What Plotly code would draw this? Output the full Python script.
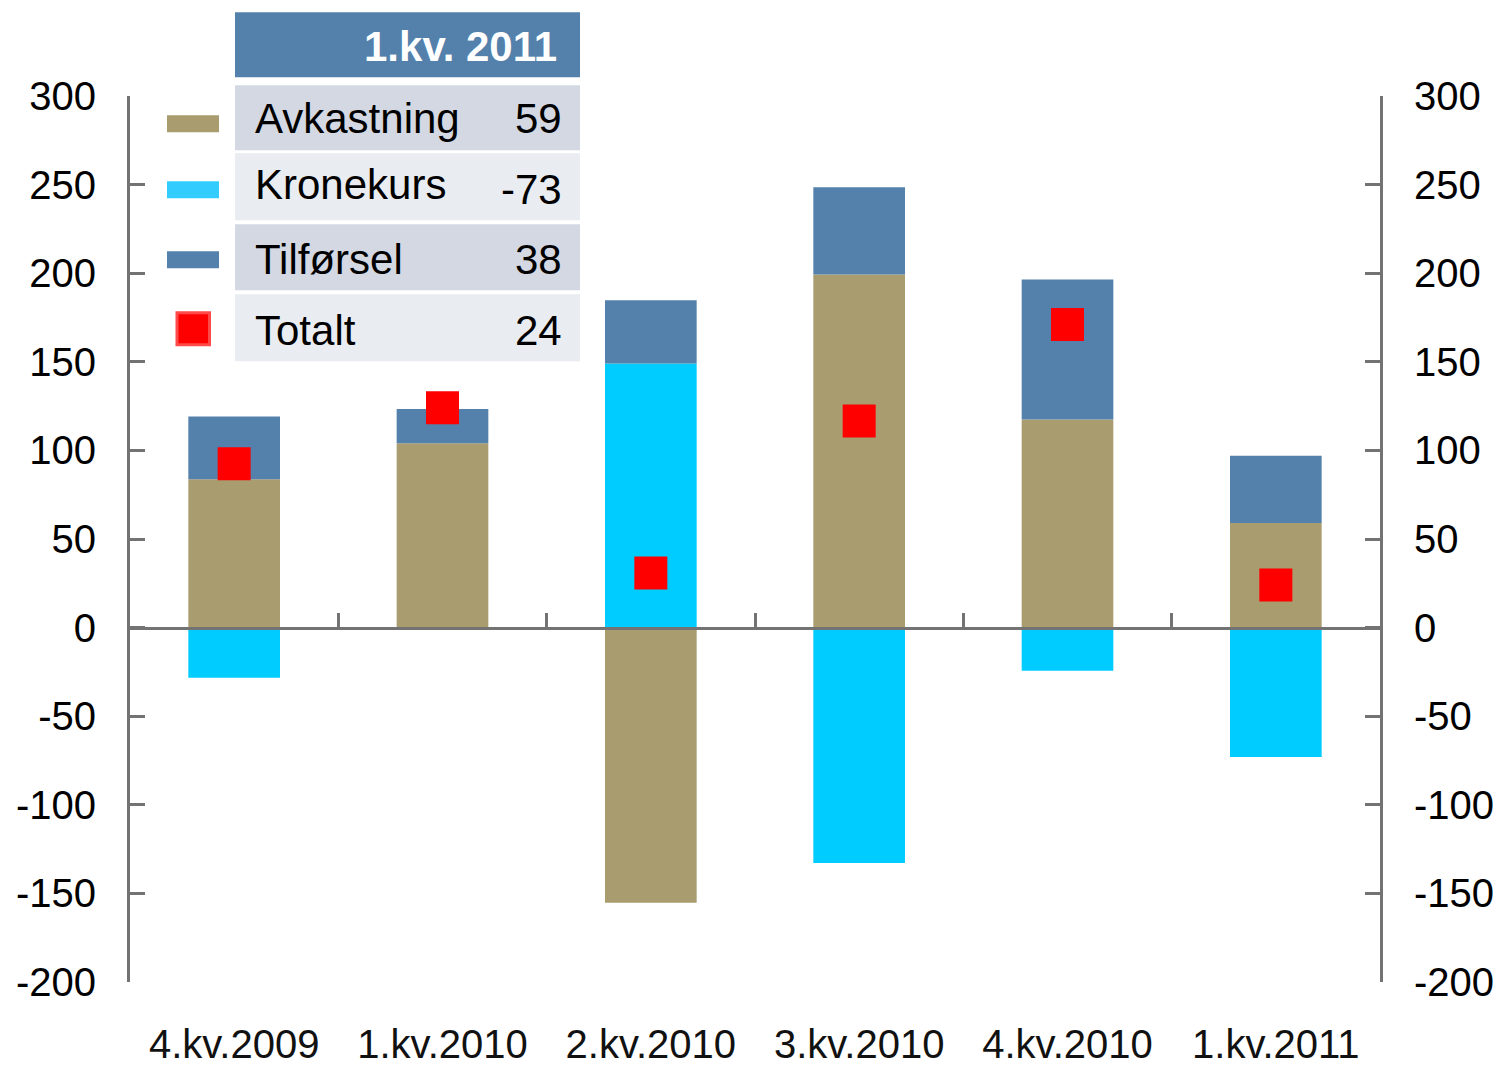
import plotly.graph_objects as go

categories = ["4.kv.2009", "1.kv.2010", "2.kv.2010", "3.kv.2010", "4.kv.2010", "1.kv.2011"]
avkastning = [83.7, 104.0, -155.3, 199.3, 117.5, 59]
kronekurs = [-28.3, 0, 149.1, -132.8, -24.4, -73]
tilforsel = [35.5, 19.3, 35.7, 49.2, 78.9, 38]
totalt = [92.4, 124.1, 30.8, 116.6, 171.0, 24]

table_title = "1.kv. 2011"
table_labels = ["Avkastning", "Kronekurs", "Tilførsel", "Totalt"]
table_values = ["59", "-73", "38", "24"]

y_ticks = [300, 250, 200, 150, 100, 50, 0, -50, -100, -150, -200]

C_AVK = "#A99C6F"
C_KRON = "#00CCFF"
C_KRON_LEG = "#33CCFF"
C_TILF = "#5381AC"
C_TOT = "#FF0000"
AX = "#737373"
FONT = "Liberation Sans"

W, H = 1501, 1066
L, R, T, B = 130, 1380, 95.75, 982.0

def px(xp):
    return (xp - L) / (R - L)

def py(yp):
    return (B - yp) / (B - T)

xs = list(range(len(categories)))

fig = go.Figure()
fig.add_trace(go.Bar(x=xs, y=avkastning, marker=dict(color=C_AVK, line=dict(width=0)), name="Avkastning"))
fig.add_trace(go.Bar(x=xs, y=kronekurs, marker=dict(color=C_KRON, line=dict(width=0)), name="Kronekurs"))
fig.add_trace(go.Bar(x=xs, y=tilforsel, marker=dict(color=C_TILF, line=dict(width=0)), name="Tilførsel"))
fig.add_trace(go.Scatter(x=xs, y=totalt, mode="markers", name="Totalt",
                         marker=dict(symbol="square", size=33, color=C_TOT, line=dict(width=0))))
# helper invisible trace for secondary axes (zero axis + right axis)
fig.add_trace(go.Scatter(x=[0], y=[0], xaxis="x2", yaxis="y2", mode="markers",
                         marker=dict(opacity=0), hoverinfo="skip", showlegend=False))

shapes = []
annotations = []

# header
shapes.append(dict(type="rect", xref="paper", yref="paper", x0=px(235), x1=px(580), y0=py(77), y1=py(12),
                   fillcolor=C_TILF, line=dict(width=0), layer="above"))
annotations.append(dict(xref="paper", yref="paper", x=px(559), y=py(46), xanchor="right", yanchor="middle",
                        text="<b>" + table_title + "</b>", showarrow=False,
                        font=dict(family=FONT, size=42, color="white")))
rows = [(85, 150), (153, 220), (224, 290), (294, 361)]
bgs = ["#D3D8E3", "#E9ECF1", "#D3D8E3", "#E9ECF1"]
lab_y = [118, 184, 259, 330]
val_y = [118, 189, 259, 330]
for i, (y0, y1) in enumerate(rows):
    shapes.append(dict(type="rect", xref="paper", yref="paper", x0=px(235), x1=px(580), y0=py(y1), y1=py(y0),
                       fillcolor=bgs[i], line=dict(width=0), layer="above"))
    annotations.append(dict(xref="paper", yref="paper", x=px(253), y=py(lab_y[i]), xanchor="left", yanchor="middle",
                            text=table_labels[i], showarrow=False, font=dict(family=FONT, size=42, color="black")))
    annotations.append(dict(xref="paper", yref="paper", x=px(564), y=py(val_y[i]), xanchor="right", yanchor="middle",
                            text=table_values[i], showarrow=False, font=dict(family=FONT, size=42, color="black")))

# legend symbols
for (y0, y1), col in zip([(115, 132), (181, 198), (251, 268)], [C_AVK, C_KRON_LEG, C_TILF]):
    shapes.append(dict(type="rect", xref="paper", yref="paper", x0=px(167), x1=px(219), y0=py(y1), y1=py(y0),
                       fillcolor=col, line=dict(width=0), layer="above"))
shapes.append(dict(type="rect", xref="paper", yref="paper", x0=px(177), x1=px(209.5), y0=py(344.5), y1=py(312.5),
                   fillcolor=C_TOT, line=dict(width=3, color="#FF4A4A"), layer="above"))

axis_common = dict(range=[-200, 300], tickvals=y_ticks, ticktext=[str(v) for v in y_ticks],
                   ticks="inside", ticklen=15, tickwidth=3, tickcolor=AX,
                   showline=True, linewidth=3, linecolor=AX, showgrid=False, zeroline=False, automargin=False,
                   tickfont=dict(family=FONT, size=40, color="black"), ticklabelstandoff=23, fixedrange=True)

fig.update_layout(
    width=W, height=H,
    margin=dict(l=L, r=W - R, t=T, b=H - B, pad=0),
    paper_bgcolor="white", plot_bgcolor="white",
    barmode="relative", bargap=0.56,
    showlegend=False,
    xaxis=dict(range=[-0.5, 5.5], tickvals=xs, ticktext=categories, ticks="", showline=False,
               showgrid=False, zeroline=False, automargin=False, fixedrange=True,
               tickfont=dict(family=FONT, size=40, color="#111111"), ticklabelstandoff=35),
    xaxis2=dict(range=[-0.5, 5.5], overlaying="x", anchor="free", position=0.4, automargin=False,
                tickvals=[0.5, 1.5, 2.5, 3.5, 4.5], ticks="inside", ticklen=14, tickwidth=3, tickcolor=AX,
                showline=True, linewidth=3, linecolor=AX, showticklabels=False, showgrid=False, zeroline=False,
                fixedrange=True),
    yaxis=dict(side="left", **axis_common),
    yaxis2=dict(side="right", overlaying="y", anchor="x", **axis_common),
    shapes=shapes, annotations=annotations,
)

fig.write_html("out.html", config={"displayModeBar": False},
               post_script="document.body.style.margin='0';document.body.style.overflow='hidden';")
